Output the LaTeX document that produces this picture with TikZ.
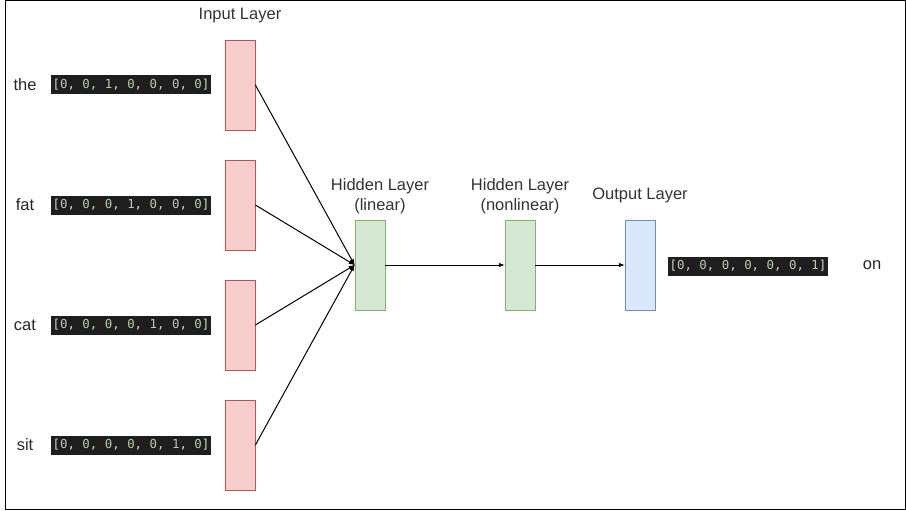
\documentclass[tikz,border=0pt]{standalone}
\usepackage{fontspec}
\setmainfont{Liberation Sans}
\setmonofont{DejaVu Sans Mono}
\usepackage{tikz}
\usetikzlibrary{arrows}
\definecolor{inpfill}{HTML}{F8CECC}
\definecolor{inpdraw}{HTML}{B85450}
\definecolor{hidfill}{HTML}{D5E8D4}
\definecolor{hiddraw}{HTML}{82B366}
\definecolor{outfill}{HTML}{DAE8FC}
\definecolor{outdraw}{HTML}{6C8EBF}
\definecolor{codebg}{HTML}{1E1E1E}
\definecolor{codetxt}{HTML}{D4D4D4}
\definecolor{codenum}{HTML}{B5CEA8}
\newcommand{\nm}[1]{\textcolor{codenum}{#1}}
\newcommand{\onehot}[7]{[\nm{#1}, \nm{#2}, \nm{#3}, \nm{#4}, \nm{#5}, \nm{#6}, \nm{#7}]}
\tikzset{
	layer/.style={draw, minimum width=30pt, minimum height=90pt, inner sep=0pt, line width=0.8pt},
	inplayer/.style={layer, fill=inpfill, draw=inpdraw},
	hidlayer/.style={layer, fill=hidfill, draw=hiddraw},
	outlayer/.style={layer, fill=outfill, draw=outdraw},
	codevec/.style={fill=codebg, text=codetxt, font=\ttfamily\fontsize{12.4}{14}\selectfont, inner xsep=2pt, minimum height=19pt, inner ysep=0pt, text height=9.5pt, text depth=2.5pt},
	word/.style={font=\fontsize{16.5}{20}\selectfont, text=black!85},
	title/.style={font=\fontsize{16.5}{20}\selectfont, text=black!80, align=center}
}
\begin{document}
\begin{tikzpicture}[x=1pt, y=-1pt, >=latex]
	\useasboundingbox (0,0) rectangle (906,511);
	\draw[line width=1pt] (5.5,1) rectangle (905,509.5);
	% input layer
	\node[title] (inptitle) at (240,16) {Input Layer};
	\node[inplayer] (in1) at (240,85) {};
	\node[inplayer] (in2) at (240,205) {};
	\node[inplayer] (in3) at (240,325) {};
	\node[inplayer] (in4) at (240,445) {};
	\node[word] (w1) at (25,85) {the};
	\node[word] (w2) at (25,205) {fat};
	\node[word] (w3) at (25,325) {cat};
	\node[word] (w4) at (25,445) {sit};
	\node[codevec] (v1) at (131,85) {\onehot{0}{0}{1}{0}{0}{0}{0}};
	\node[codevec] (v2) at (131,205) {\onehot{0}{0}{0}{1}{0}{0}{0}};
	\node[codevec] (v3) at (131,325) {\onehot{0}{0}{0}{0}{1}{0}{0}};
	\node[codevec] (v4) at (131,445) {\onehot{0}{0}{0}{0}{0}{1}{0}};
	% hidden and output layers
	\node[title] (hid1title) at (380,196) {Hidden Layer\\(linear)};
	\node[title] (hid2title) at (520,196) {Hidden Layer\\(nonlinear)};
	\node[title] (outtitle) at (640,195) {Output Layer};
	\node[hidlayer] (hid1) at (370,265) {};
	\node[hidlayer] (hid2) at (520,265) {};
	\node[outlayer] (out) at (640,265) {};
	\node[codevec] (vout) at (748,266) {\onehot{0}{0}{0}{0}{0}{0}{1}};
	\node[word] (wout) at (872,265) {on};
	\path[->, line width=1pt]
	(in1.east) edge (hid1.west)
	(in2.east) edge (hid1.west)
	(in3.east) edge (hid1.west)
	(in4.east) edge (hid1.west)
	(hid1.east) edge (hid2.west)
	(hid2.east) edge (out.west);
\end{tikzpicture}
\end{document}
